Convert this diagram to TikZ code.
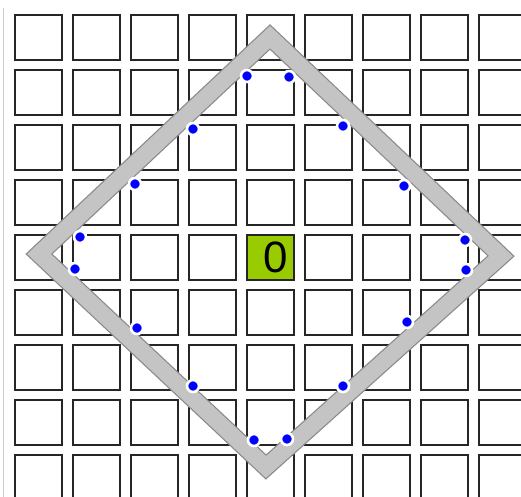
\documentclass[tikz,border=0pt]{standalone}
\usepackage{fontspec}
\setmainfont{Liberation Sans}
\usepackage{tikz}
\usetikzlibrary{calc}

\definecolor{cellgreen}{HTML}{99CC00}
\definecolor{ringgray}{HTML}{C4C4C4}
\definecolor{ringedge}{HTML}{8A8A8A}

\begin{document}
\begin{tikzpicture}[
    x=0.02cm, y=-0.02cm,
    cell/.style={draw=black!85, line width=1.4pt},
    ringout/.style={draw=ringedge, line width=10.6pt, line join=miter},
    ringin/.style={draw=ringgray, line width=9.2pt, line join=miter},
    dot/.style={fill=blue, draw=white, line width=1.5pt},
    digit/.style={font=\fontsize{25}{30}\selectfont, inner sep=0pt},
]
\useasboundingbox (0,0) rectangle (521,497);
\clip (0,0) rectangle (521,497);

% faint frame line on the left
\draw[gray!40, line width=0.5pt] (3,8) -- (3,497);

% grid of cells, 9 x 9 (last column and row cut off)
\foreach \i in {0,...,8}
  \foreach \j in {0,...,8}
    \draw[cell] ({15+58*\i},{15+55*\j}) rectangle ++(47,45);

% centre cell
\fill[cellgreen] (247,235) rectangle ++(47,45);
\draw[cell] (247,235) rectangle ++(47,45);
\node[digit] (zero) at (276,257) {0};

% diamond band
\coordinate (top) at (270,37);
\coordinate (right) at (501,256);
\coordinate (bottom) at (266,467);
\coordinate (left) at (39,254);
\draw[ringout] (top) -- (right) -- (bottom) -- (left) -- cycle;
\draw[ringin] (top) -- (right) -- (bottom) -- (left) -- cycle;

% blue points just inside the band
\foreach \p in {(247,76),(289,77),(193,129),(343,126),(135,184),(404,186),
                (80,237),(465,240),(75,269),(466,270),(137,328),(407,322),
                (193,386),(343,386),(254,440),(287,439)}
  \draw[dot] \p circle[radius=6];

\end{tikzpicture}
\end{document}
